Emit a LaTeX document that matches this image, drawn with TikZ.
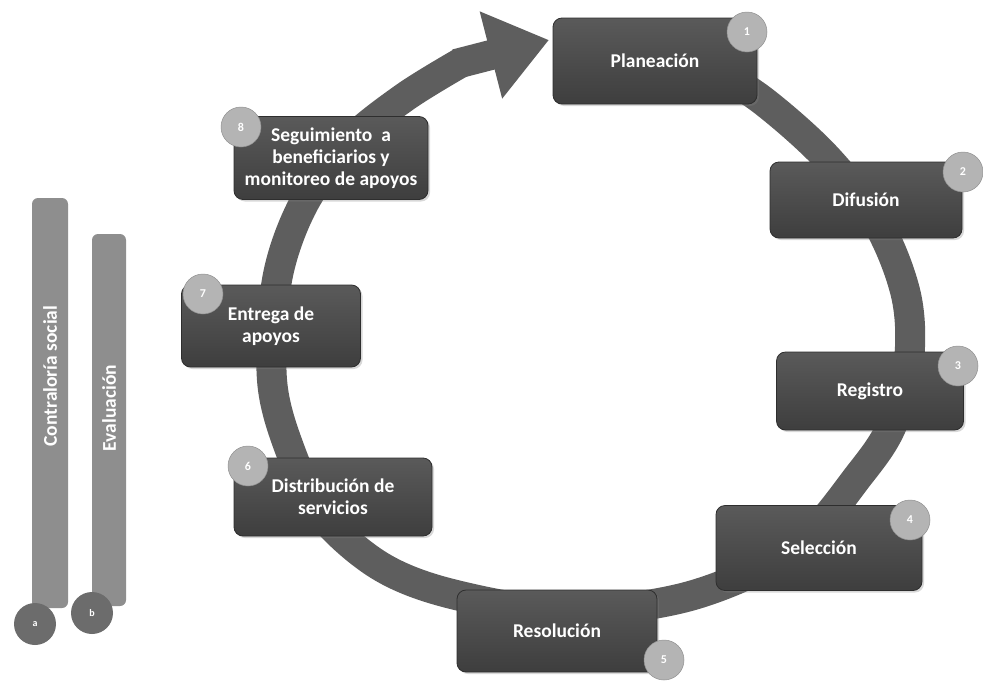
\documentclass[tikz,border=0pt]{standalone}
\usepackage{fontspec}
\setmainfont{Carlito}
\usetikzlibrary{arrows.meta,shadows}
\definecolor{ringc}{HTML}{5E5E5E}
\definecolor{boxtop}{HTML}{5A5A5A}
\definecolor{boxbot}{HTML}{3E3E3E}
\definecolor{boxedge}{HTML}{2E2E2E}
\definecolor{numc}{HTML}{B4B4B4}
\definecolor{barc}{HTML}{8E8E8E}
\definecolor{barnum}{HTML}{6C6C6C}
\tikzset{
  stepbox/.style={rounded corners=9pt, top color=boxtop, bottom color=boxbot,
    draw=boxedge, line width=0.8pt, text=white, align=center,
    font=\bfseries\fontsize{19.5}{22}\selectfont,
    drop shadow={shadow xshift=2pt, shadow yshift=-2pt, opacity=0.3}},
  numcirc/.style={circle, fill=numc, draw=numc!80!black, line width=0.5pt,
    minimum size=40pt, inner sep=0pt, text=white,
    font=\bfseries\fontsize{12}{12}\selectfont},
  barbox/.style={rounded corners=6pt, fill=barc, inner sep=0pt},
  bartext/.style={rotate=90, text=white, font=\bfseries\fontsize{19.5}{20}\selectfont},
  barcirc/.style={circle, fill=barnum, minimum size=42pt, inner sep=0pt,
    text=white, font=\bfseries\fontsize{10}{10}\selectfont},
  ringbody/.style={draw=ringc, line width=30pt, line cap=butt},
  ringhead/.style={draw=ringc, line width=30pt, line cap=butt,
    -{Triangle[length=60pt, width=86pt]}}
}
\begin{document}
\begin{tikzpicture}[x=1pt, y=-1pt]
\useasboundingbox (0,0) rectangle (983,683);
\fill[white] (0,0) rectangle (983,683);

% ring with arrow
\coordinate (rs) at (705,64);
\coordinate (ab) at (462,62);
\coordinate (ab0) at (456,64);
\coordinate (re) at (549,40);
\draw[ringbody] plot[smooth, tension=0.55] coordinates {
  (rs) (762,100) (826,157) (878,224) (906,295) (909,360) (892,425)
  (860,474) (795,548) (690,596) (565,612) (452,594) (380,566) (322,515)
  (290,450) (272,380) (277,280) (303,205) (348,143) (405,97) (ab)};
\draw[ringhead] (ab0) -- (re);

% process boxes
\node[stepbox, minimum width=204pt, minimum height=86pt] (plan) at (655,61) {Planeación};
\node[stepbox, minimum width=192pt, minimum height=76pt] (difu) at (866,200) {Difusión};
\node[stepbox, minimum width=187pt, minimum height=78pt] (regi) at (870,391) {Registro};
\node[stepbox, minimum width=206pt, minimum height=85pt] (sele) at (819,548) {Selección};
\node[stepbox, minimum width=200pt, minimum height=82pt] (reso) at (557,631) {Resolución};
\node[stepbox, minimum width=198pt, minimum height=78pt] (dist) at (333,497) {Distribución de\\servicios};
\node[stepbox, minimum width=179pt, minimum height=82pt] (entr) at (271,326) {Entrega de\\apoyos};
\node[stepbox, minimum width=194pt, minimum height=83pt] (segu) at (331,158) {Seguimiento~ a\\beneficiarios y\\monitoreo de apoyos};

% number circles
\node[numcirc] (n1) at (747,32) {1};
\node[numcirc] (n2) at (963,172) {2};
\node[numcirc] (n3) at (958,366) {3};
\node[numcirc] (n4) at (910,520) {4};
\node[numcirc] (n5) at (664,660) {5};
\node[numcirc] (n6) at (248,466) {6};
\node[numcirc] (n7) at (203,294) {7};
\node[numcirc] (n8) at (241,127) {8};

% side bars
\node[barbox, minimum width=36pt, minimum height=410pt] (barA) at (50,403) {};
\node[barbox, minimum width=34pt, minimum height=372pt] (barB) at (109,420) {};
\node[bartext] (txtA) at (50,376) {Contraloría social};
\node[bartext] (txtB) at (109,408) {Evaluación};
\node[barcirc] (ca) at (35,624) {a};
\node[barcirc] (cb) at (92,613) {b};
\end{tikzpicture}
\end{document}
